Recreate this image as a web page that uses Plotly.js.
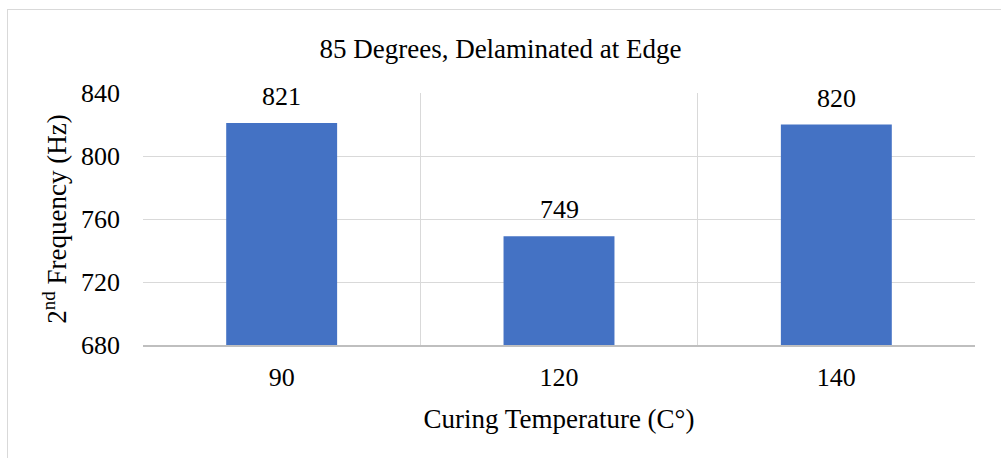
<!DOCTYPE html>
<html>
<head>
<meta charset="utf-8">
<script src="https://cdn.plot.ly/plotly-3.0.1.min.js"></script>
<style>
html,body{margin:0;padding:0;background:#fff;overflow:hidden;}
#chart{position:absolute;left:0;top:0;width:1001px;height:458px;}
#frame{position:absolute;left:7px;top:9px;width:1010px;height:470px;border:1px solid #d9d9d9;pointer-events:none;}
</style>
</head>
<body>
<div id="chart"></div>
<div id="frame"></div>
<script>
const categories = ["90", "120", "140"];
const frequencies = [821, 749, 820];
const labels = ["821", "749", "820"];
const chartTitle = "85 Degrees, Delaminated at Edge";
const xTitle = "Curing Temperature (C°)";
const yTitle = "2<sup>nd</sup> Frequency (Hz)";
const yTicks = [680, 720, 760, 800, 840];

const font = "Times New Roman, Liberation Serif, DejaVu Serif, serif";

const annotations = categories.map((c, i) => ({
  x: i, y: frequencies[i], xref: "x", yref: "y",
  text: labels[i], showarrow: false,
  yanchor: "bottom", yshift: 10,
  font: {family: font, size: 26, color: "#000"}
}));

Plotly.newPlot("chart", [{
  type: "bar",
  x: categories,
  y: frequencies,
  marker: {color: "#4472C4"},
  hoverinfo: "none"
}], {
  width: 1001, height: 458,
  margin: {l: 143, r: 26, t: 93, b: 113},
  paper_bgcolor: "rgba(0,0,0,0)",
  plot_bgcolor: "#fff",
  bargap: 0.6,
  showlegend: false,
  font: {family: font, size: 24, color: "#000"},
  title: {text: chartTitle, font: {family: font, size: 27, color: "#000"}, x: 0.5, xanchor: "center", y: 0.895, yanchor: "middle"},
  annotations: annotations,
  xaxis: {
    type: "category",
    categoryarray: categories,
    range: [-0.5, 2.5],
    tickson: "boundaries",
    showgrid: true, gridcolor: "#d9d9d9", gridwidth: 1,
    showline: true, linecolor: "#bfbfbf", linewidth: 2,
    ticks: "", ticklabelstandoff: 8,
    tickangle: 0,
    tickfont: {family: font, size: 26, color: "#000"},
    title: {text: xTitle, font: {family: font, size: 27, color: "#000"}, standoff: 18}
  },
  yaxis: {
    range: [680, 840],
    tickvals: yTicks,
    showgrid: true, gridcolor: "#d9d9d9", gridwidth: 1,
    zeroline: false, showline: false,
    ticks: "", ticklabelstandoff: 22,
    tickfont: {family: font, size: 26, color: "#000"},
    title: {text: yTitle, font: {family: font, size: 27, color: "#000"}, standoff: 6}
  }
}, {displayModeBar: false, staticPlot: true});
</script>
</body>
</html>
